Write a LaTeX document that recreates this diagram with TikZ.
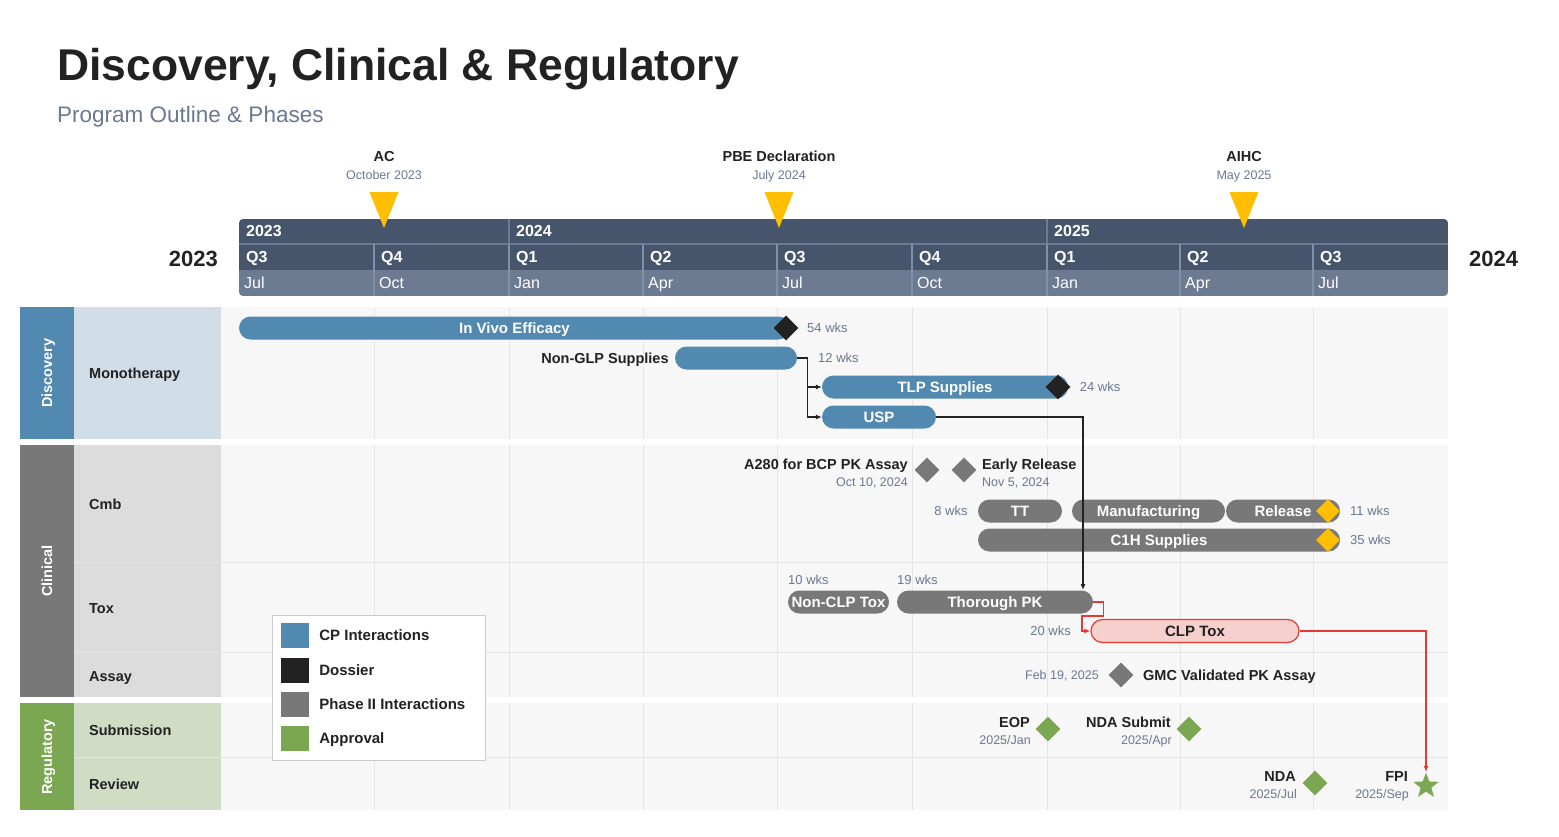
\documentclass[tikz,border=0pt]{standalone}
\usepackage{fontspec}
\setmainfont{Liberation Sans}
\usetikzlibrary{shapes.geometric,positioning,arrows.meta}

\definecolor{headdark}{HTML}{46556B}
\definecolor{headlight}{HTML}{6C7A92}
\definecolor{headrule}{HTML}{8190A8}
\definecolor{cpblue}{HTML}{5289B0}
\definecolor{disclabel}{HTML}{D0DCE6}
\definecolor{phasegray}{HTML}{787878}
\definecolor{clinlabel}{HTML}{DCDCDC}
\definecolor{approval}{HTML}{7BA753}
\definecolor{reglabel}{HTML}{D1DCC5}
\definecolor{lanebg}{HTML}{F7F7F7}
\definecolor{gridgray}{HTML}{E5E5E5}
\definecolor{dossier}{HTML}{222222}
\definecolor{msyellow}{HTML}{FFBF00}
\definecolor{inkdark}{HTML}{222222}
\definecolor{inkgray}{HTML}{6B7890}
\definecolor{redline}{HTML}{E53935}
\definecolor{redfill}{HTML}{F6D0CD}
\definecolor{legendrule}{HTML}{CCCCCC}

\tikzset{
  lbl/.style={font=\bfseries\fontsize{14.5}{16}\selectfont, text=inkdark, inner sep=0,
    text height=10.4, text depth=0},
  sublbl/.style={font=\fontsize{12.5}{14}\selectfont, text=inkgray, inner sep=0,
    text height=9, text depth=0},
  wks/.style={font=\fontsize{13}{14}\selectfont, text=inkgray, inner sep=0,
    text height=9.3, text depth=0},
  headtxt/.style={font=\bfseries\fontsize{16}{17}\selectfont, text=white, inner sep=0, anchor=west,
    text height=11.5, text depth=0},
  lanelbl/.style={font=\bfseries\fontsize{14.5}{16}\selectfont, text=white, inner sep=0, rotate=90,
    text height=10.4, text depth=0},
  bar/.style={rectangle, rounded corners=11.5, minimum height=23, inner sep=0, text=white,
    font=\bfseries\fontsize{15}{16}\selectfont, text height=10.8, text depth=0},
  gem/.style={diamond, aspect=1, minimum size=25, inner sep=0},
  swatch/.style={rectangle, minimum width=28, minimum height=25, inner sep=0},
  gridline/.style={draw=gridgray, line width=1},
  conn/.style={draw=inkdark, line width=1.1, -{Latex[length=6,width=5]}},
  redconn/.style={draw=redline, line width=1.1, -{Latex[length=6,width=5]}}
}

\begin{document}
\begin{tikzpicture}[x=1pt,y=-1pt]
  \useasboundingbox (0,0) rectangle (1559,836);

  % title
  \node[font=\bfseries\fontsize{44.5}{48}\selectfont, text=inkdark, anchor=base west, inner sep=0] (title)
    at (57,80) {Discovery, Clinical \& Regulatory};
  \node[font=\fontsize{22.5}{24}\selectfont, text=inkgray, anchor=west, inner sep=0,
    text height=16, text depth=0] (subtitle) at (57,114) {Program Outline \& Phases};

  % timeline header
  \begin{scope}
    \clip[rounded corners=4] (239,219) rectangle (1448,296);
    \fill[headdark] (239,219) rectangle (1448,270);
    \fill[headlight] (239,270) rectangle (1448,296);
  \end{scope}
  \draw[headlight, line width=1.5] (239,244) -- (1448,244);
  \foreach \x in {509,1047}
    \draw[headlight, line width=1.5] (\x,219) -- (\x,244);
  \foreach \x in {374,509,643,777,912,1047,1180,1313}
    \draw[headrule, line width=2] (\x,244) -- (\x,296);
  \foreach \x/\yr in {239/2023,509/2024,1047/2025}
    \node[headtxt] (yr\yr) at (\x+7,231) {\yr};
  \foreach \x/\q/\m [count=\i] in {239/Q3/Jul,374/Q4/Oct,509/Q1/Jan,643/Q2/Apr,777/Q3/Jul,
      912/Q4/Oct,1047/Q1/Jan,1180/Q2/Apr,1313/Q3/Jul} {
    \node[headtxt] (q\i) at (\x+7,257) {\q};
    \node[headtxt, font=\fontsize{16}{17}\selectfont] (m\i) at (\x+5,283) {\m};
  }
  \node[font=\bfseries\fontsize{22}{23}\selectfont, text=inkdark, anchor=east, inner sep=0,
    text height=15.8, text depth=0] (yrleft) at (218,259) {2023};
  \node[font=\bfseries\fontsize{22}{23}\selectfont, text=inkdark, anchor=west, inner sep=0,
    text height=15.8, text depth=0] (yrright) at (1469,259) {2024};

  % milestones above the header
  \foreach \x/\name/\date [count=\i] in {384/AC/October 2023,779/PBE Declaration/July 2024,1244/AIHC/May 2025} {
    \fill[msyellow] (\x-14.5,192) -- (\x+14.5,192) -- (\x,228) -- cycle;
    \node[lbl] (ms\i) at (\x,156) {\name};
    \node[sublbl] (msdate\i) at (\x,175) {\date};
  }

  % swimlanes
  \fill[cpblue] (20,307) rectangle (74,439);
  \fill[disclabel] (74,307) rectangle (221,439);
  \fill[lanebg] (221,307) rectangle (1448,439);
  \fill[phasegray] (20,445) rectangle (74,697);
  \fill[clinlabel] (74,445) rectangle (221,697);
  \fill[lanebg] (221,445) rectangle (1448,697);
  \fill[approval] (20,703) rectangle (74,810);
  \fill[reglabel] (74,703) rectangle (221,810);
  \fill[lanebg] (221,703) rectangle (1448,810);
  \foreach \top/\bot in {307/439,445/697,703/810}
    \foreach \x in {374,509,643,777,912,1047,1180,1313}
      \draw[gridline] (\x,\top) -- (\x,\bot);
  \foreach \y in {562,652,757}
    \draw[gridline] (74,\y) -- (1448,\y);

  \node[lanelbl] (discovery) at (47,373) {Discovery};
  \node[lanelbl] (clinical) at (47,571) {Clinical};
  \node[lanelbl] (regulatory) at (47,757) {Regulatory};
  \node[lbl, anchor=west] (monotherapy) at (89,373) {Monotherapy};
  \node[lbl, anchor=west] (cmb) at (89,504) {Cmb};
  \node[lbl, anchor=west] (tox) at (89,608) {Tox};
  \node[lbl, anchor=west] (assay) at (89,676) {Assay};
  \node[lbl, anchor=west] (submission) at (89,730) {Submission};
  \node[lbl, anchor=west] (review) at (89,784) {Review};

  % discovery bars
  \node[bar, fill=cpblue, minimum width=551] (invivo) at (514.5,328) {In Vivo Efficacy};
  \node[gem, fill=dossier] (invivoend) at (786,328) {};
  \node[wks, anchor=west] (invivowks) at (807,328) {54 wks};
  \node[bar, fill=cpblue, minimum width=122] (nonglp) at (736,358) {};
  \node[lbl, left=6 of nonglp] (nonglplbl) {Non-GLP Supplies};
  \node[wks, anchor=west] (nonglpwks) at (818,358) {12 wks};
  \node[bar, fill=cpblue, minimum width=246] (tlp) at (945,387) {TLP Supplies};
  \node[gem, fill=dossier] (tlpend) at (1058,387) {};
  \node[wks, right=9 of tlpend] (tlpwks) {24 wks};
  \node[bar, fill=cpblue, minimum width=114] (usp) at (879,417) {USP};

  \draw[conn] (nonglp.east) -- ++(10,0) |- (tlp.west);
  \draw[conn] (nonglp.east) -- ++(10,0) |- (usp.west);

  % clinical: cmb
  \node[gem, fill=phasegray] (a280) at (927,470) {};
  \node[lbl, anchor=east] (a280lbl) at (908,464) {A280 for BCP PK Assay};
  \node[sublbl, anchor=east] (a280date) at (908,482) {Oct 10, 2024};
  \node[gem, fill=phasegray] (early) at (964,470) {};
  \node[lbl, anchor=west] (earlylbl) at (982,464) {Early Release};
  \node[sublbl, anchor=west] (earlydate) at (982,482) {Nov 5, 2024};
  \node[bar, fill=phasegray, minimum width=84] (tt) at (1020,511) {TT};
  \node[wks, left=10 of tt] (ttwks) {8 wks};
  \node[bar, fill=phasegray, minimum width=153] (manuf) at (1148.5,511) {Manufacturing};
  \node[bar, fill=phasegray, minimum width=114] (release) at (1283,511) {Release};
  \node[gem, fill=msyellow, minimum size=24] (releaseend) at (1328,511) {};
  \node[wks, anchor=west] (releasewks) at (1350,511) {11 wks};
  \node[bar, fill=phasegray, minimum width=362] (c1h) at (1159,540) {C1H Supplies};
  \node[gem, fill=msyellow, minimum size=24] (c1hend) at (1328,540) {};
  \node[wks, anchor=west] (c1hwks) at (1350,540) {35 wks};

  % clinical: tox
  \node[bar, fill=phasegray, minimum width=101] (nonclp) at (838.5,602) {Non-CLP Tox};
  \node[wks, anchor=west] (nonclpwks) at (788,580) {10 wks};
  \node[bar, fill=phasegray, minimum width=196] (tpk) at (995,602) {Thorough PK};
  \node[wks, anchor=west] (tpkwks) at (897,580) {19 wks};
  \node[bar, fill=redfill, draw=redline, line width=1.2, text=inkdark, minimum width=208] (clp) at (1195,631) {CLP Tox};
  \node[wks, anchor=east] (clpwks) at (1071,631) {20 wks};
  \coordinate (tpkin) at (1083,590);
  \coordinate (redturn) at (1082,616);
  \draw[conn] (usp.east) -| (tpkin);
  \draw[redconn] (tpk.east) -- ++(10,0) |- (redturn) |- (clp.west);

  % clinical: assay
  \node[gem, fill=phasegray] (gmc) at (1121,675) {};
  \node[sublbl, anchor=east] (gmcdate) at (1099,675) {Feb 19, 2025};
  \node[lbl, anchor=west] (gmclbl) at (1143,675) {GMC Validated PK Assay};

  % regulatory
  \node[gem, fill=approval] (eop) at (1048,729) {};
  \node[lbl, anchor=east] (eoplbl) at (1030,722) {EOP};
  \node[sublbl, anchor=east] (eopdate) at (1031,740) {2025/Jan};
  \node[gem, fill=approval] (ndasub) at (1189,729) {};
  \node[lbl, anchor=east] (ndasublbl) at (1171,722) {NDA Submit};
  \node[sublbl, anchor=east] (ndasubdate) at (1172,740) {2025/Apr};
  \node[gem, fill=approval] (nda) at (1315,783) {};
  \node[lbl, anchor=east] (ndalbl) at (1296,776) {NDA};
  \node[sublbl, anchor=east] (ndadate) at (1297,794) {2025/Jul};
  \node[star, star points=5, star point ratio=2.4, minimum size=27, inner sep=0, fill=approval] (fpi) at (1426,786) {};
  \node[lbl, anchor=east] (fpilbl) at (1408,776) {FPI};
  \node[sublbl, anchor=east] (fpidate) at (1409,794) {2025/Sep};
  \draw[redconn] (clp.east) -| (fpi.north);

  % legend
  \draw[fill=white, draw=legendrule] (272,615) rectangle (485,760);
  \node[swatch, fill=cpblue] (sw1) at (295,635) {};
  \node[swatch, fill=dossier] (sw2) at (295,670) {};
  \node[swatch, fill=phasegray] (sw3) at (295,704) {};
  \node[swatch, fill=approval] (sw4) at (295,738) {};
  \node[lbl, font=\bfseries\fontsize{15}{16}\selectfont, right=10 of sw1] (lg1) {CP Interactions};
  \node[lbl, font=\bfseries\fontsize{15}{16}\selectfont, right=10 of sw2] (lg2) {Dossier};
  \node[lbl, font=\bfseries\fontsize{15}{16}\selectfont, right=10 of sw3] (lg3) {Phase II Interactions};
  \node[lbl, font=\bfseries\fontsize{15}{16}\selectfont, right=10 of sw4] (lg4) {Approval};
\end{tikzpicture}
\end{document}
